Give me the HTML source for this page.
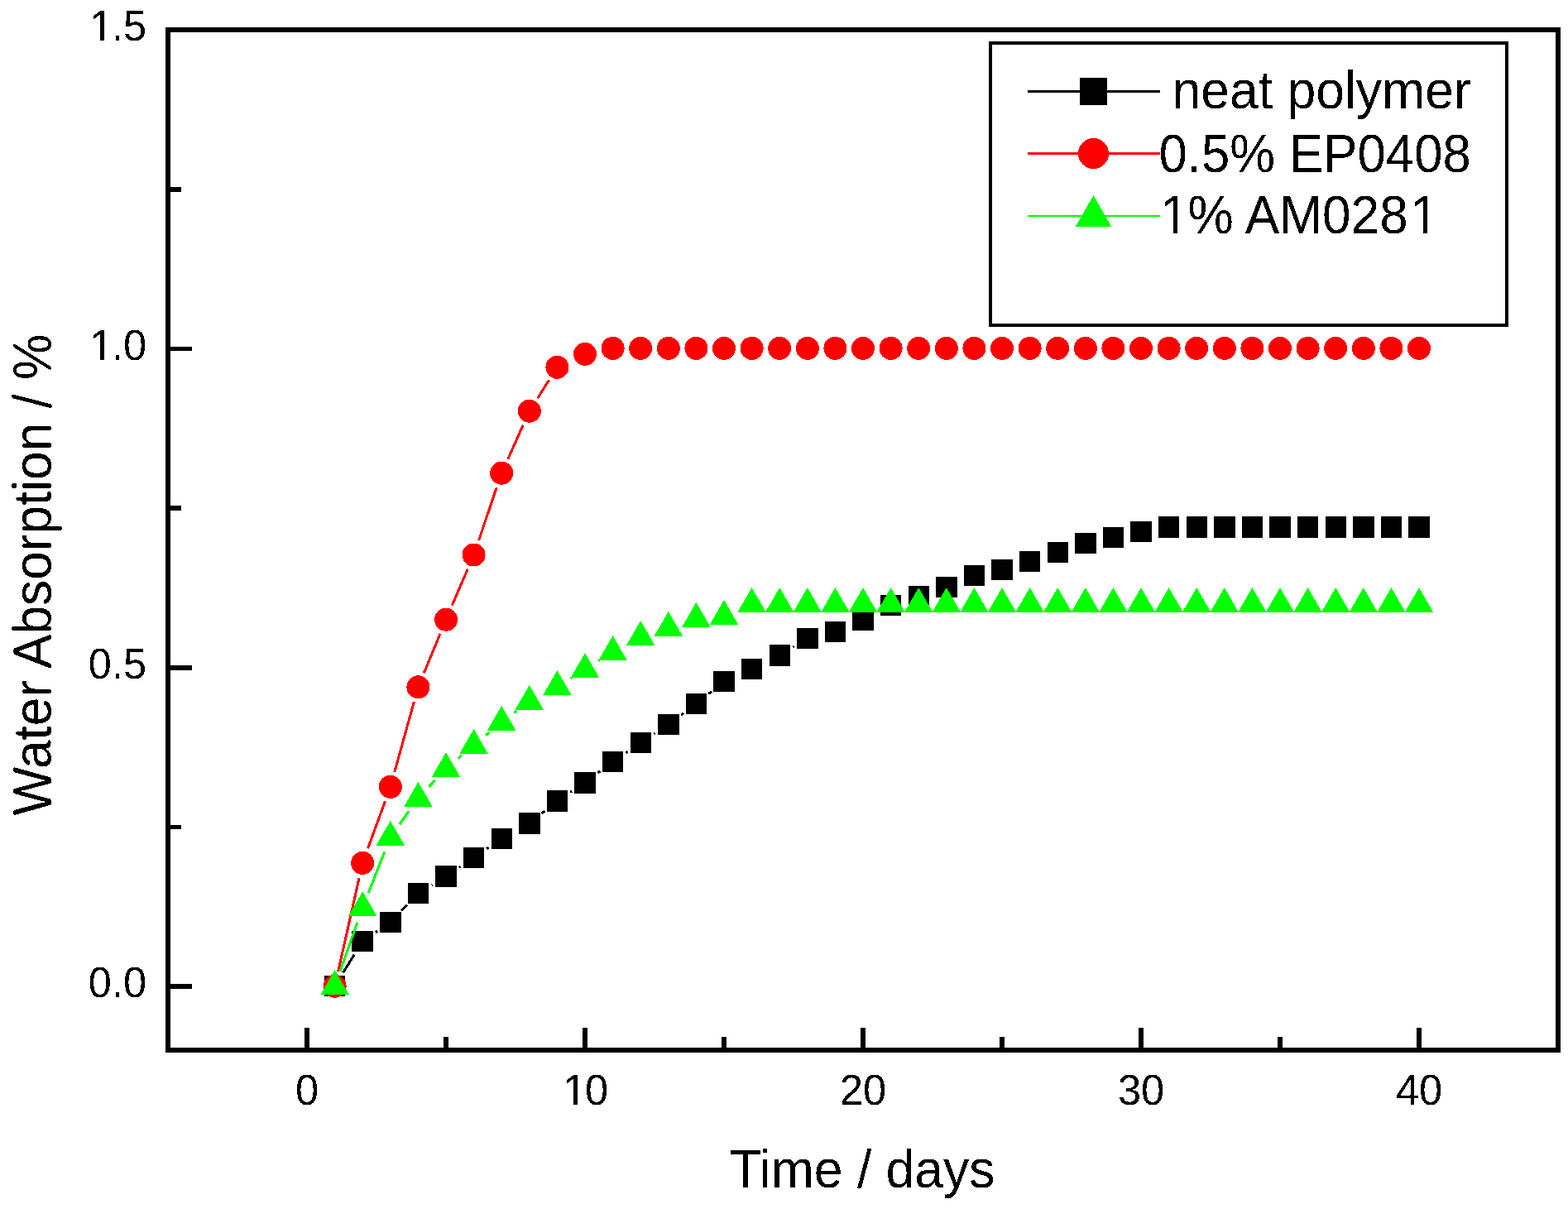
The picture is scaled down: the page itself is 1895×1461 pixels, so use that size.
<!DOCTYPE html>
<html><head><meta charset="utf-8"><title>Water Absorption</title>
<style>html,body{margin:0;padding:0;background:#fff}svg{display:block}</style>
</head><body>
<svg width="1895" height="1461" viewBox="0 0 1895 1461" shape-rendering="crispEdges"><rect width="1895" height="1461" fill="#fff"/><defs><filter id="bin" x="-5%" y="-20%" width="110%" height="140%" color-interpolation-filters="sRGB"><feComponentTransfer><feFuncA type="discrete" tableValues="0 1"/></feComponentTransfer></filter></defs><path d="M203 1192.0H231.5M203 806.8H231.5M203 421.5H231.5M203 999.4H218.7M203 614.1H218.7M203 228.9H218.7M371.0 1269V1241.5M707.0 1269V1241.5M1043.0 1269V1241.5M1379.0 1269V1241.5M1715.0 1269V1241.5M539.0 1269V1253.3M875.0 1269V1253.3M1211.0 1269V1253.3M1547.0 1269V1253.3" stroke="#000" stroke-width="5.8" fill="none" stroke-linecap="butt"/><rect x="203" y="36" width="1680" height="1233" fill="none" stroke="#000" stroke-width="6"/><path d="M414.7 1175.3L428.1 1153.7M453.9 1126.7L456.1 1125.2M485.0 1100.6L492.2 1093.2M521.7 1069.5L522.7 1068.9M554.9 1048.4L556.7 1047.1M588.3 1025.7L590.5 1024.2M654.7 982.9L658.5 979.9M689.3 957.4L691.1 956.2M722.3 934.2L725.3 932.0M756.4 909.7L758.4 908.3M790.2 887.0L791.8 886.0M823.1 864.1L826.1 861.9M856.3 838.5L860.1 835.5M958.5 782.0L959.5 781.4" stroke="#000" stroke-width="3" fill="none" stroke-linecap="butt"/><g fill="#000"><rect x="391.9" y="1178.8" width="25.5" height="25.5"/><rect x="425.4" y="1124.8" width="25.5" height="25.5"/><rect x="459.1" y="1101.7" width="25.5" height="25.5"/><rect x="492.6" y="1066.7" width="25.5" height="25.5"/><rect x="526.2" y="1046.2" width="25.5" height="25.5"/><rect x="559.9" y="1023.8" width="25.5" height="25.5"/><rect x="593.5" y="1000.6" width="25.5" height="25.5"/><rect x="627.0" y="982.1" width="25.5" height="25.5"/><rect x="660.7" y="955.1" width="25.5" height="25.5"/><rect x="694.2" y="933.0" width="25.5" height="25.5"/><rect x="727.9" y="907.8" width="25.5" height="25.5"/><rect x="761.5" y="884.8" width="25.5" height="25.5"/><rect x="795.0" y="862.8" width="25.5" height="25.5"/><rect x="828.7" y="837.8" width="25.5" height="25.5"/><rect x="862.2" y="810.8" width="25.5" height="25.5"/><rect x="895.9" y="795.8" width="25.5" height="25.5"/><rect x="929.5" y="779.2" width="25.5" height="25.5"/><rect x="963.1" y="758.6" width="25.5" height="25.5"/><rect x="996.6" y="750.6" width="25.5" height="25.5"/><rect x="1030.2" y="736.5" width="25.5" height="25.5"/><rect x="1063.8" y="718.6" width="25.5" height="25.5"/><rect x="1097.5" y="708.0" width="25.5" height="25.5"/><rect x="1131.1" y="696.8" width="25.5" height="25.5"/><rect x="1164.7" y="682.8" width="25.5" height="25.5"/><rect x="1198.2" y="675.8" width="25.5" height="25.5"/><rect x="1231.8" y="665.6" width="25.5" height="25.5"/><rect x="1265.5" y="654.6" width="25.5" height="25.5"/><rect x="1299.1" y="643.8" width="25.5" height="25.5"/><rect x="1332.7" y="636.6" width="25.5" height="25.5"/><rect x="1366.2" y="629.6" width="25.5" height="25.5"/><rect x="1399.9" y="624.2" width="25.5" height="25.5"/><rect x="1433.5" y="624.2" width="25.5" height="25.5"/><rect x="1467.0" y="624.2" width="25.5" height="25.5"/><rect x="1500.7" y="624.2" width="25.5" height="25.5"/><rect x="1534.2" y="624.2" width="25.5" height="25.5"/><rect x="1567.9" y="624.2" width="25.5" height="25.5"/><rect x="1601.5" y="624.2" width="25.5" height="25.5"/><rect x="1635.0" y="624.2" width="25.5" height="25.5"/><rect x="1668.7" y="624.2" width="25.5" height="25.5"/><rect x="1702.2" y="624.2" width="25.5" height="25.5"/></g><path d="M408.7 1173.8L434.1 1060.8M444.5 1025.4L465.5 968.2M476.8 933.0L500.4 848.1M512.4 813.2L532.0 765.8M546.3 731.7L565.3 687.5M578.6 653.0L600.2 589.2M613.8 554.8L632.2 513.7M649.7 481.2L663.5 459.4" stroke="#f00" stroke-width="3" fill="none" stroke-linecap="butt"/><g fill="#f00"><circle cx="404.6" cy="1191.8" r="14.0"/><circle cx="438.2" cy="1042.8" r="14.0"/><circle cx="471.8" cy="950.8" r="14.0"/><circle cx="505.4" cy="830.3" r="14.0"/><circle cx="539.0" cy="748.7" r="14.0"/><circle cx="572.6" cy="670.5" r="14.0"/><circle cx="606.2" cy="571.7" r="14.0"/><circle cx="639.8" cy="496.8" r="14.0"/><circle cx="673.4" cy="443.8" r="14.0"/><circle cx="707.0" cy="427.8" r="14.0"/><circle cx="740.6" cy="420.9" r="14.0"/><circle cx="774.2" cy="420.9" r="14.0"/><circle cx="807.8" cy="420.9" r="14.0"/><circle cx="841.4" cy="420.9" r="14.0"/><circle cx="875.0" cy="420.9" r="14.0"/><circle cx="908.6" cy="420.9" r="14.0"/><circle cx="942.2" cy="420.9" r="14.0"/><circle cx="975.8" cy="420.9" r="14.0"/><circle cx="1009.4" cy="420.9" r="14.0"/><circle cx="1043.0" cy="420.9" r="14.0"/><circle cx="1076.6" cy="420.9" r="14.0"/><circle cx="1110.2" cy="420.9" r="14.0"/><circle cx="1143.8" cy="420.9" r="14.0"/><circle cx="1177.4" cy="420.9" r="14.0"/><circle cx="1211.0" cy="420.9" r="14.0"/><circle cx="1244.6" cy="420.9" r="14.0"/><circle cx="1278.2" cy="420.9" r="14.0"/><circle cx="1311.8" cy="420.9" r="14.0"/><circle cx="1345.4" cy="420.9" r="14.0"/><circle cx="1379.0" cy="420.9" r="14.0"/><circle cx="1412.6" cy="420.9" r="14.0"/><circle cx="1446.2" cy="420.9" r="14.0"/><circle cx="1479.8" cy="420.9" r="14.0"/><circle cx="1513.4" cy="420.9" r="14.0"/><circle cx="1547.0" cy="420.9" r="14.0"/><circle cx="1580.6" cy="420.9" r="14.0"/><circle cx="1614.2" cy="420.9" r="14.0"/><circle cx="1647.8" cy="420.9" r="14.0"/><circle cx="1681.4" cy="420.9" r="14.0"/><circle cx="1715.0" cy="420.9" r="14.0"/></g><path d="M410.9 1174.0L431.9 1114.8M445.2 1079.2L464.8 1029.3M482.9 996.2L494.3 980.1M518.4 950.8L526.0 942.7M553.6 916.6L558.0 912.9M587.2 888.5L591.6 884.9M621.4 861.4L624.6 859.0M689.5 819.8L690.9 818.9M723.1 798.8L724.5 797.9" stroke="#0f0" stroke-width="3" fill="none" stroke-linecap="butt"/><g fill="#0f0"><path d="M404.6 1172.1L421.7 1201.8L387.5 1201.8ZM438.2 1077.1L455.3 1106.8L421.1 1106.8ZM471.8 991.8L488.9 1021.5L454.7 1021.5ZM505.4 944.9L522.5 974.6L488.3 974.6ZM539.0 909.0L556.1 938.7L521.9 938.7ZM572.6 880.9L589.7 910.6L555.5 910.6ZM606.2 852.9L623.3 882.6L589.1 882.6ZM639.8 827.9L656.9 857.6L622.7 857.6ZM673.4 810.1L690.5 839.8L656.3 839.8ZM707.0 789.0L724.1 818.7L689.9 818.7ZM740.6 768.1L757.7 797.8L723.5 797.8ZM774.2 750.0L791.3 779.7L757.1 779.7ZM807.8 738.9L824.9 768.6L790.7 768.6ZM841.4 727.9L858.5 757.6L824.3 757.6ZM875.0 724.9L892.1 754.6L857.9 754.6ZM908.6 710.0L925.7 739.7L891.5 739.7ZM942.2 710.0L959.3 739.7L925.1 739.7ZM975.8 710.0L992.9 739.7L958.7 739.7ZM1009.4 710.0L1026.5 739.7L992.3 739.7ZM1043.0 710.0L1060.1 739.7L1025.9 739.7ZM1076.6 710.0L1093.7 739.7L1059.5 739.7ZM1110.2 710.0L1127.3 739.7L1093.1 739.7ZM1143.8 710.0L1160.9 739.7L1126.7 739.7ZM1177.4 710.0L1194.5 739.7L1160.3 739.7ZM1211.0 710.0L1228.1 739.7L1193.9 739.7ZM1244.6 710.0L1261.7 739.7L1227.5 739.7ZM1278.2 710.0L1295.3 739.7L1261.1 739.7ZM1311.8 710.0L1328.9 739.7L1294.7 739.7ZM1345.4 710.0L1362.5 739.7L1328.3 739.7ZM1379.0 710.0L1396.1 739.7L1361.9 739.7ZM1412.6 710.0L1429.7 739.7L1395.5 739.7ZM1446.2 710.0L1463.3 739.7L1429.1 739.7ZM1479.8 710.0L1496.9 739.7L1462.7 739.7ZM1513.4 710.0L1530.5 739.7L1496.3 739.7ZM1547.0 710.0L1564.1 739.7L1529.9 739.7ZM1580.6 710.0L1597.7 739.7L1563.5 739.7ZM1614.2 710.0L1631.3 739.7L1597.1 739.7ZM1647.8 710.0L1664.9 739.7L1630.7 739.7ZM1681.4 710.0L1698.5 739.7L1664.3 739.7ZM1715.0 710.0L1732.1 739.7L1697.9 739.7Z"/></g><text transform="translate(177 1205.1) scale(1 1.025)" font-size="50.5" text-anchor="end" font-family="Liberation Sans, Arial, sans-serif" filter="url(#bin)">0.0</text><text transform="translate(177 819.9) scale(1 1.025)" font-size="50.5" text-anchor="end" font-family="Liberation Sans, Arial, sans-serif" filter="url(#bin)">0.5</text><text transform="translate(177.00 434.60) scale(1 1.025)" font-size="50.5" font-family="Liberation Sans, Arial, sans-serif" filter="url(#bin)"><tspan x="-68.603">1</tspan><tspan x="-42.125">.0</tspan></text><g transform="translate(177.00 434.60) scale(1 1.025)" fill="#fff"><rect x="-65.96" y="-4.46" width="10.05" height="5.33"/><rect x="-51.44" y="-4.46" width="9.66" height="5.33"/></g><text transform="translate(177.00 49.35) scale(1 1.025)" font-size="50.5" font-family="Liberation Sans, Arial, sans-serif" filter="url(#bin)"><tspan x="-68.603">1</tspan><tspan x="-42.125">.5</tspan></text><g transform="translate(177.00 49.35) scale(1 1.025)" fill="#fff"><rect x="-65.96" y="-4.46" width="10.05" height="5.33"/><rect x="-51.44" y="-4.46" width="9.66" height="5.33"/></g><text transform="translate(371.0 1334.8) scale(1 1.025)" font-size="50.5" text-anchor="middle" font-family="Liberation Sans, Arial, sans-serif" filter="url(#bin)">0</text><text transform="translate(707.00 1334.80) scale(1 1.025)" font-size="50.5" font-family="Liberation Sans, Arial, sans-serif" filter="url(#bin)"><tspan x="-26.478">1</tspan><tspan x="0.000">0</tspan></text><g transform="translate(707.00 1334.80) scale(1 1.025)" fill="#fff"><rect x="-23.83" y="-4.46" width="10.05" height="5.33"/><rect x="-9.32" y="-4.46" width="9.66" height="5.33"/></g><text transform="translate(1043.0 1334.8) scale(1 1.025)" font-size="50.5" text-anchor="middle" font-family="Liberation Sans, Arial, sans-serif" filter="url(#bin)">20</text><text transform="translate(1379.0 1334.8) scale(1 1.025)" font-size="50.5" text-anchor="middle" font-family="Liberation Sans, Arial, sans-serif" filter="url(#bin)">30</text><text transform="translate(1715.0 1334.8) scale(1 1.025)" font-size="50.5" text-anchor="middle" font-family="Liberation Sans, Arial, sans-serif" filter="url(#bin)">40</text><text transform="translate(1042.3 1435) scale(1 1.04)" font-size="62.5" text-anchor="middle" font-family="Liberation Sans, Arial, sans-serif" filter="url(#bin)">Time / days</text><text transform="translate(61.5 694.5) rotate(-90) scale(1 1.04)" font-size="62.2" text-anchor="middle" font-family="Liberation Sans, Arial, sans-serif" filter="url(#bin)">Water Absorption / %</text><rect x="1197" y="52" width="624" height="341" fill="#fff" stroke="#000" stroke-width="4"/><path d="M1242 110.5H1402" stroke="#000" stroke-width="3"/><rect x="1305" y="94" width="33" height="33" fill="#000"/><path d="M1242 185.5H1402" stroke="#f00" stroke-width="3"/><circle cx="1321.5" cy="185.5" r="18.5" fill="#f00"/><path d="M1242 261H1402" stroke="#0f0" stroke-width="2.4"/><path d="M1321.5 236.1L1343.3 273.9L1299.7 273.9Z" fill="#0f0"/><text transform="translate(1416.5 131) scale(1 1.04)" font-size="62.5" font-family="Liberation Sans, Arial, sans-serif" filter="url(#bin)">neat polymer</text><text transform="translate(1400.5 207.5) scale(1 1.0635)" font-size="61.7" font-family="Liberation Sans, Arial, sans-serif" filter="url(#bin)">0.5% EP0408</text><text transform="translate(1401.00 282.30) scale(1 1.055)" font-size="62.2" font-family="Liberation Sans, Arial, sans-serif" filter="url(#bin)"><tspan x="1.000">1</tspan><tspan x="34.578">% AM028</tspan><tspan x="303.250">1</tspan></text><g transform="translate(1401.00 282.30) scale(1 1.055)" fill="#fff"><rect x="4.54" y="-5.31" width="12.10" height="6.16"/><rect x="22.14" y="-5.31" width="11.62" height="6.16"/><rect x="306.79" y="-5.31" width="12.10" height="6.16"/><rect x="324.39" y="-5.31" width="11.62" height="6.16"/></g></svg>
</body></html>
